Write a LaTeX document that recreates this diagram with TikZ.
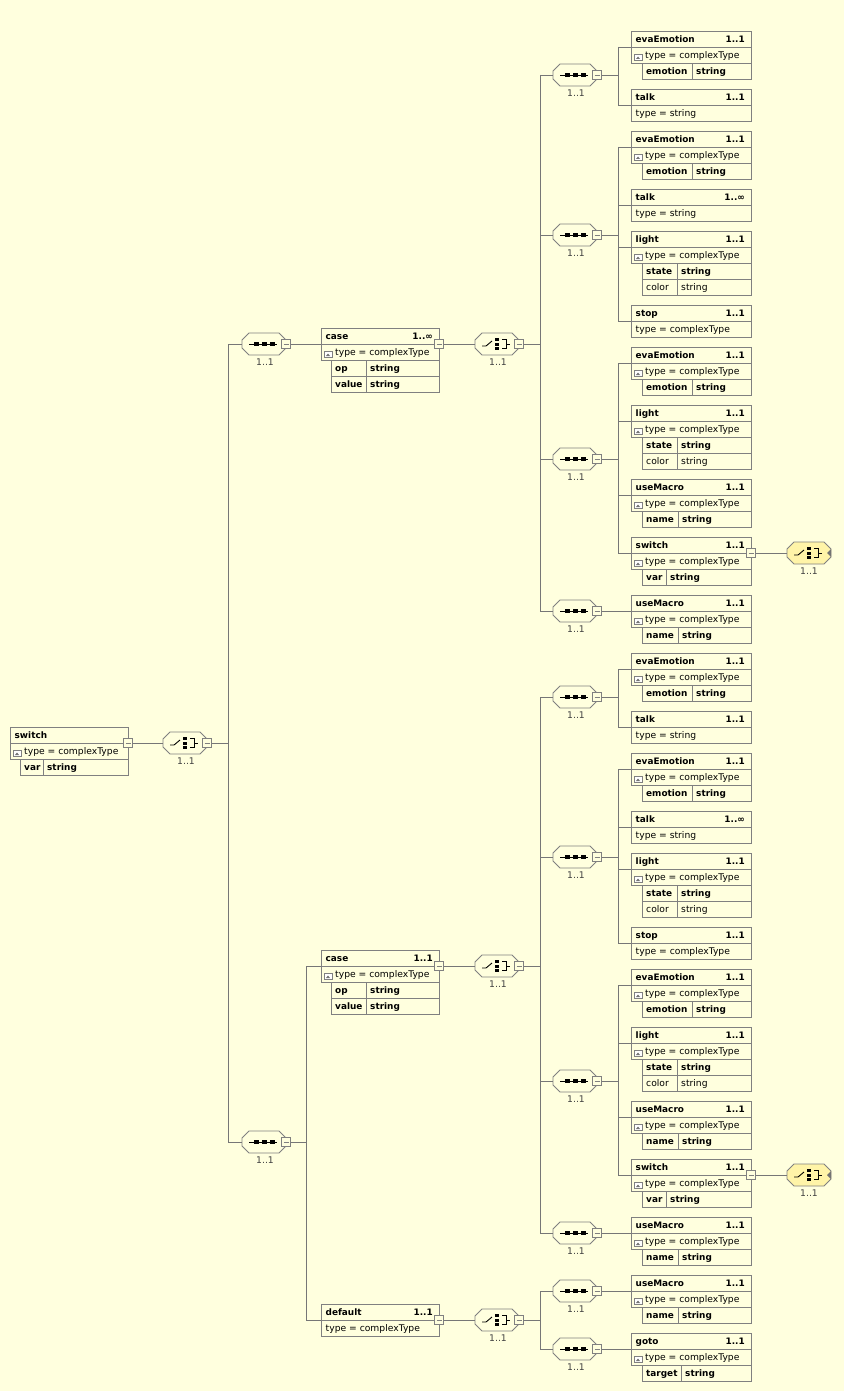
\documentclass[tikz,border=0pt]{standalone}
\usepackage{fontspec}
\setmainfont{DejaVu Sans}
\usetikzlibrary{calc}
\definecolor{bgc}{RGB}{255,255,222}
\definecolor{bordc}{RGB}{128,128,128}
\definecolor{linec}{RGB}{118,118,118}
\definecolor{yelc}{RGB}{255,244,168}
\newcommand\xfs{\fontsize{9.2}{11}\selectfont}
\newcommand\xfb{\fontsize{8.9}{11}\selectfont\bfseries}
\tikzset{
 hbox/.style={draw=bordc, line width=0.8pt, minimum height=16pt, inner sep=0pt, outer sep=0pt, anchor=north west},
 cbox/.style={draw=bordc, line width=0.8pt, minimum height=16pt, inner sep=0pt, outer sep=0pt, anchor=north west},
 txtb/.style={font=\xfb, inner sep=0pt, text height=6.6pt, text depth=1.8pt, yshift=-1.2pt},
 txtn/.style={font=\xfs, inner sep=0pt, text height=6.8pt, text depth=1.9pt, yshift=-1.2pt},
 clab/.style={font=\xfs, text=black!75, inner sep=0pt},
 conn/.style={draw=linec, line width=0.8pt},
 mbox/.style={draw=bordc, fill=bgc, line width=0.8pt, minimum size=9pt, inner sep=0pt, outer sep=0pt},
 cnode/.style={minimum width=44pt, minimum height=22pt, inner sep=0pt, outer sep=0pt},
 cline/.style={draw=bordc, line width=0.8pt},
 icon/.style={draw=black, line width=0.9pt},
}
\newcommand\XHdr[6]{%
 \node[hbox, minimum width=#4pt] (#1) at (#2,#3) {};
 \node[txtb, anchor=west] (#1n) at ([xshift=4.5pt]#1.west) {#5};
 \node[txtb, anchor=east] (#1m) at ([xshift=-6pt]#1.east) {#6};
}
\newcommand\XTypI[3]{%
 \node[hbox, minimum width=#2pt] (#1t) at (#1.south west) {};
 \node[txtn, anchor=west] (#1tt) at ([xshift=14pt]#1t.west) {#3};
 \draw[draw=bordc, line width=0.6pt, fill=white] ([xshift=3pt,yshift=2.5pt]#1t.south west) rectangle ([xshift=11pt,yshift=8.5pt]#1t.south west);
 \fill[black!55] ([xshift=5pt,yshift=4pt]#1t.south west) -- ([xshift=9pt,yshift=4pt]#1t.south west) -- ([xshift=7pt,yshift=6.5pt]#1t.south west) -- cycle;
}
\newcommand\XTypP[3]{%
 \node[hbox, minimum width=#2pt] (#1t) at (#1.south west) {};
 \node[txtn, anchor=west] (#1tt) at ([xshift=4.5pt]#1t.west) {#3};
}
\newcommand\XAtt[8]{%
 \node[cbox, minimum width=#4pt] (#1) at (#2,#3) {};
 \node[cbox, minimum width=#5pt] (#1v) at (#1.north east) {};
 \node[#8, anchor=west] (#1n) at ([xshift=4pt]#1.west) {#6};
 \node[#8, anchor=west] (#1x) at ([xshift=4pt]#1v.west) {#7};
}
\newcommand\XMinus[2]{%
 \node[mbox] (#1) at (#2) {};
 \draw[draw=bordc, line width=0.8pt] ([xshift=2pt]#1.west) -- ([xshift=-2pt]#1.east);
}
\newcommand\XOct[2]{%
 \draw[cline, fill=#2] (#1.west) -- ([yshift=4pt]#1.west) -- ([xshift=7pt]#1.north west) -- ([xshift=-7pt]#1.north east) -- ([yshift=4pt]#1.east) -- ([yshift=-4pt]#1.east) -- ([xshift=-7pt]#1.south east) -- ([xshift=7pt]#1.south west) -- ([yshift=-4pt]#1.west) -- cycle;
}
\newcommand\XSeqIcon[1]{%
 \draw[icon] ([xshift=-15pt]#1.center) -- ([xshift=13pt]#1.center);
 \fill[black] ([xshift=-10pt,yshift=-1.6pt]#1.center) rectangle ([xshift=-5pt,yshift=1.6pt]#1.center);
 \fill[black] ([xshift=-2pt,yshift=-1.6pt]#1.center) rectangle ([xshift=3pt,yshift=1.6pt]#1.center);
 \fill[black] ([xshift=6pt,yshift=-1.6pt]#1.center) rectangle ([xshift=11pt,yshift=1.6pt]#1.center);
}
\newcommand\XChoIcon[1]{%
 \draw[icon] ([xshift=-15pt,yshift=-2pt]#1.center) -- ([xshift=-11pt,yshift=-2pt]#1.center) -- ([xshift=-5pt,yshift=3pt]#1.center);
 \fill[black] ([xshift=-2pt,yshift=3pt]#1.center) rectangle ([xshift=2pt,yshift=6pt]#1.center);
 \fill[black] ([xshift=-2pt,yshift=-1.5pt]#1.center) rectangle ([xshift=2pt,yshift=1.5pt]#1.center);
 \fill[black] ([xshift=-2pt,yshift=-6pt]#1.center) rectangle ([xshift=2pt,yshift=-3pt]#1.center);
 \draw[icon] ([xshift=5pt,yshift=4.5pt]#1.center) -- ([xshift=9pt,yshift=4.5pt]#1.center) -- ([xshift=9pt,yshift=-4.5pt]#1.center) -- ([xshift=5pt,yshift=-4.5pt]#1.center);
 \draw[icon] ([xshift=9pt]#1.center) -- ([xshift=13pt]#1.center);
}
\newcommand\XSeq[3]{%
 \node[cnode] (#1) at (#2,#3) {};
 \XOct{#1}{bgc}
 \XSeqIcon{#1}
 \node[clab] (#1l) at ([xshift=1pt,yshift=-18pt]#1.center) {1..1};
 \XMinus{#1M}{[xshift=22pt]#1.center}
}
\newcommand\XCho[3]{%
 \node[cnode] (#1) at (#2,#3) {};
 \XOct{#1}{bgc}
 \XChoIcon{#1}
 \node[clab] (#1l) at ([xshift=1pt,yshift=-18pt]#1.center) {1..1};
 \XMinus{#1M}{[xshift=22pt]#1.center}
}
\newcommand\XYCho[3]{%
 \node[cnode] (#1) at (#2,#3) {};
 \XOct{#1}{yelc}
 \XChoIcon{#1}
 \fill[black!55] ([xshift=22pt,yshift=4pt]#1.center) -- ([xshift=18pt]#1.center) -- ([xshift=22pt,yshift=-4pt]#1.center) -- cycle;
 \node[clab] (#1l) at ([xshift=0pt,yshift=-18pt]#1.center) {1..1};
}
\newcommand\XCaseGroup[3]{%
\begin{scope}[shift={(0,#2)}]
 \XHdr{#1c}{321}{328}{118}{case}{#3}
 \XTypI{#1c}{118}{type = complexType}
 \XAtt{#1co}{331}{360}{35}{73}{op}{string}{txtb}
 \XAtt{#1cv}{331}{376}{35}{73}{value}{string}{txtb}
 \XMinus{#1cM}{439,344}
 \XCho{#1h}{497}{344}
 \draw[conn] (#1cM.east) -- (#1h.west);
 \coordinate (#1B) at (540,344);
 \draw[conn] (#1hM.east) -- (#1B);
 \XSeq{#1sA}{575}{75}
 \XSeq{#1sB}{575}{235}
 \XSeq{#1sC}{575}{459}
 \XSeq{#1sD}{575}{611}
 \draw[conn] (#1sA.west -| #1B) -- (#1sD.west -| #1B);
 \draw[conn] (#1sA.west -| #1B) -- (#1sA.west);
 \draw[conn] (#1sB.west -| #1B) -- (#1sB.west);
 \draw[conn] (#1sC.west -| #1B) -- (#1sC.west);
 \draw[conn] (#1sD.west -| #1B) -- (#1sD.west);
 \coordinate (#1X) at (618,344);
 % group A
 \XHdr{#1a1}{631}{31}{120}{evaEmotion}{1..1}
 \XTypI{#1a1}{120}{type = complexType}
 \XAtt{#1a1e}{642}{63}{50}{59}{emotion}{string}{txtb}
 \XHdr{#1a2}{631}{89}{120}{talk}{1..1}
 \XTypP{#1a2}{120}{type = string}
 \draw[conn] (#1sAM.east) -- (#1sAM.east -| #1X);
 \draw[conn] (#1a1.south west -| #1X) -- (#1a2.south west -| #1X);
 \draw[conn] (#1a1.south west -| #1X) -- (#1a1.south west);
 \draw[conn] (#1a2.south west -| #1X) -- (#1a2.south west);
 % group B
 \XHdr{#1b1}{631}{131}{120}{evaEmotion}{1..1}
 \XTypI{#1b1}{120}{type = complexType}
 \XAtt{#1b1e}{642}{163}{50}{59}{emotion}{string}{txtb}
 \XHdr{#1b2}{631}{189}{120}{talk}{1..∞}
 \XTypP{#1b2}{120}{type = string}
 \XHdr{#1b3}{631}{231}{120}{light}{1..1}
 \XTypI{#1b3}{120}{type = complexType}
 \XAtt{#1b3s}{642}{263}{35}{74}{state}{string}{txtb}
 \XAtt{#1b3c}{642}{279}{35}{74}{color}{string}{txtn}
 \XHdr{#1b4}{631}{305}{120}{stop}{1..1}
 \XTypP{#1b4}{120}{type = complexType}
 \draw[conn] (#1sBM.east) -- (#1sBM.east -| #1X);
 \draw[conn] (#1b1.south west -| #1X) -- (#1b4.south west -| #1X);
 \draw[conn] (#1b1.south west -| #1X) -- (#1b1.south west);
 \draw[conn] (#1b2.south west -| #1X) -- (#1b2.south west);
 \draw[conn] (#1b3.south west -| #1X) -- (#1b3.south west);
 \draw[conn] (#1b4.south west -| #1X) -- (#1b4.south west);
 % group C
 \XHdr{#1g1}{631}{347}{120}{evaEmotion}{1..1}
 \XTypI{#1g1}{120}{type = complexType}
 \XAtt{#1g1e}{642}{379}{50}{59}{emotion}{string}{txtb}
 \XHdr{#1g2}{631}{405}{120}{light}{1..1}
 \XTypI{#1g2}{120}{type = complexType}
 \XAtt{#1g2s}{642}{437}{35}{74}{state}{string}{txtb}
 \XAtt{#1g2c}{642}{453}{35}{74}{color}{string}{txtn}
 \XHdr{#1g3}{631}{479}{120}{useMacro}{1..1}
 \XTypI{#1g3}{120}{type = complexType}
 \XAtt{#1g3n}{642}{511}{36}{73}{name}{string}{txtb}
 \XHdr{#1g4}{631}{537}{120}{switch}{1..1}
 \XTypI{#1g4}{120}{type = complexType}
 \XAtt{#1g4v}{642}{569}{24}{85}{var}{string}{txtb}
 \XMinus{#1g4M}{751,553}
 \XYCho{#1y}{809}{553}
 \draw[conn] (#1g4M.east) -- (#1y.west);
 \draw[conn] (#1sCM.east) -- (#1sCM.east -| #1X);
 \draw[conn] (#1g1.south west -| #1X) -- (#1g4.south west -| #1X);
 \draw[conn] (#1g1.south west -| #1X) -- (#1g1.south west);
 \draw[conn] (#1g2.south west -| #1X) -- (#1g2.south west);
 \draw[conn] (#1g3.south west -| #1X) -- (#1g3.south west);
 \draw[conn] (#1g4.south west -| #1X) -- (#1g4.south west);
 % group D
 \XHdr{#1k1}{631}{595}{120}{useMacro}{1..1}
 \XTypI{#1k1}{120}{type = complexType}
 \XAtt{#1k1n}{642}{627}{36}{73}{name}{string}{txtb}
 \draw[conn] (#1sDM.east) -- (#1k1.south west);
\end{scope}}
\begin{document}
\begin{tikzpicture}[x=1pt,y=-1pt]
\fill[bgc] (0,0) rectangle (844,1391);
\useasboundingbox (0,0) rectangle (844,1391);
% root
\XHdr{r}{10}{727}{118}{switch}{}
\XTypI{r}{118}{type = complexType}
\XAtt{rv}{20}{759}{23}{85}{var}{string}{txtb}
\XMinus{rM}{128,743}
\XCho{c0}{185}{743}
\draw[conn] (rM.east) -- (c0.west);
\coordinate (B0) at (228,743);
\draw[conn] (c0M.east) -- (B0);
\XSeq{s1}{264}{344}
\XSeq{s2}{264}{1142}
\draw[conn] (s1.west -| B0) -- (s2.west -| B0);
\draw[conn] (s1.west -| B0) -- (s1.west);
\draw[conn] (s2.west -| B0) -- (s2.west);
% case groups
\XCaseGroup{P}{0}{1..∞}
\draw[conn] (s1M.east) -- (Pc.south west);
\XCaseGroup{Q}{622}{1..1}
% default
\XHdr{d}{321}{1304}{118}{default}{1..1}
\XTypP{d}{118}{type = complexType}
\XMinus{dM}{439,1320}
\coordinate (B1) at (306,1142);
\draw[conn] (s2M.east) -- (B1);
\draw[conn] (Qc.south west -| B1) -- (d.south west -| B1);
\draw[conn] (Qc.south west -| B1) -- (Qc.south west);
\draw[conn] (d.south west -| B1) -- (d.south west);
\XCho{dh}{497}{1320}
\draw[conn] (dM.east) -- (dh.west);
\coordinate (B2) at (540,1320);
\draw[conn] (dhM.east) -- (B2);
\XSeq{dsA}{575}{1291}
\XSeq{dsB}{575}{1349}
\draw[conn] (dsA.west -| B2) -- (dsB.west -| B2);
\draw[conn] (dsA.west -| B2) -- (dsA.west);
\draw[conn] (dsB.west -| B2) -- (dsB.west);
\XHdr{du}{631}{1275}{120}{useMacro}{1..1}
\XTypI{du}{120}{type = complexType}
\XAtt{dun}{642}{1307}{36}{73}{name}{string}{txtb}
\draw[conn] (dsAM.east) -- (du.south west);
\XHdr{dg}{631}{1333}{120}{goto}{1..1}
\XTypI{dg}{120}{type = complexType}
\XAtt{dgt}{642}{1365}{39}{70}{target}{string}{txtb}
\draw[conn] (dsBM.east) -- (dg.south west);
\end{tikzpicture}
\end{document}
